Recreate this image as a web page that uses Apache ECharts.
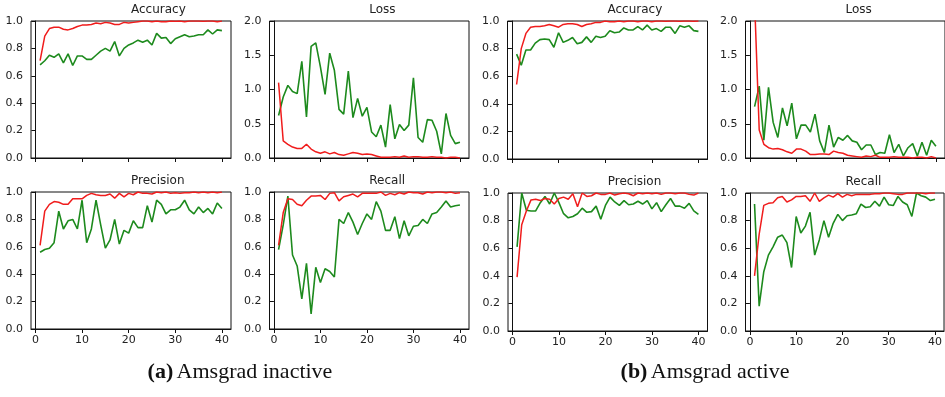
<!DOCTYPE html>
<html>
<head>
<meta charset="utf-8">
<script src="https://cdn.jsdelivr.net/npm/echarts@6/dist/echarts.min.js"></script>
<style>
html,body{margin:0;padding:0;background:#fff;}
#chart{width:945px;height:397px;}
</style>
</head>
<body>
<div id="chart"></div>
<script>
// ---------- data ----------
const epochs = [1,2,3,4,5,6,7,8,9,10,11,12,13,14,15,16,17,18,19,20,21,22,23,24,25,26,27,28,29,30,31,32,33,34,35,36,37,38,39,40];
const xTicks = [0,10,20,30,40];
const yTicksUnit = [0,0.2,0.4,0.6,0.8,1.0];
const yTicksLoss = [0,0.5,1.0,1.5,2.0];
const panelTitles = ['Accuracy','Loss','Precision','Recall'];
const captionA = ['(a)', 'Amsgrad inactive'];
const captionB = ['(b)', 'Amsgrad active'];

// (a) Amsgrad inactive
const aAccTrain = [0.71,0.89,0.945,0.955,0.955,0.94,0.935,0.945,0.96,0.97,0.97,0.975,0.985,0.98,0.99,0.985,0.975,0.975,0.99,0.985,0.99,0.995,1.0,1.0,0.995,1.0,0.995,0.995,1.0,0.998,1.0,0.995,1.0,1.0,1.0,0.998,1.0,1.0,0.995,1.0];
const aAccVal   = [0.68,0.71,0.75,0.735,0.76,0.695,0.76,0.675,0.745,0.745,0.72,0.72,0.75,0.78,0.80,0.78,0.85,0.745,0.80,0.825,0.84,0.86,0.845,0.86,0.825,0.91,0.875,0.88,0.835,0.87,0.885,0.90,0.885,0.89,0.90,0.90,0.935,0.905,0.935,0.93];
const aLossTrain = [1.10,0.25,0.20,0.16,0.14,0.14,0.20,0.13,0.09,0.07,0.09,0.06,0.08,0.05,0.04,0.06,0.08,0.07,0.05,0.06,0.05,0.03,0.01,0.01,0.01,0.02,0.01,0.03,0.01,0.02,0.02,0.01,0.01,0.02,0.01,0.01,0.0,0.01,0.01,0.0];
const aLossVal   = [0.62,0.89,1.06,0.97,0.94,1.41,0.60,1.63,1.68,1.33,0.93,1.53,1.28,0.71,0.64,1.27,0.59,0.87,0.61,0.74,0.38,0.31,0.48,0.16,0.78,0.28,0.49,0.40,0.48,1.17,0.30,0.23,0.56,0.55,0.39,0.06,0.65,0.33,0.21,0.23];
const aPrecTrain = [0.61,0.86,0.91,0.93,0.925,0.91,0.91,0.95,0.95,0.95,0.975,0.99,0.98,0.975,0.975,0.985,0.955,0.99,0.965,0.99,0.98,1.0,0.99,0.99,0.985,1.0,0.995,1.0,0.99,0.995,0.99,0.995,0.995,1.0,0.995,1.0,0.995,1.0,0.995,1.0];
const aPrecVal   = [0.56,0.58,0.59,0.63,0.86,0.73,0.79,0.80,0.73,0.94,0.63,0.73,0.94,0.76,0.59,0.65,0.80,0.62,0.72,0.70,0.79,0.74,0.74,0.90,0.78,0.94,0.91,0.84,0.87,0.87,0.89,0.94,0.87,0.84,0.89,0.85,0.88,0.84,0.92,0.88];
const aRecTrain  = [0.61,0.85,0.95,0.945,0.91,0.90,0.94,0.97,0.97,0.975,0.945,0.99,0.995,0.935,0.965,0.975,0.985,0.965,0.99,0.99,0.99,0.99,1.0,0.975,0.99,0.98,0.995,0.985,1.0,0.995,0.995,0.985,1.0,0.995,1.0,1.0,0.995,1.0,0.99,0.995];
const aRecVal    = [0.58,0.76,0.97,0.54,0.46,0.22,0.48,0.11,0.45,0.34,0.44,0.42,0.38,0.80,0.77,0.85,0.78,0.69,0.77,0.84,0.80,0.93,0.86,0.72,0.72,0.82,0.66,0.79,0.68,0.75,0.755,0.80,0.77,0.84,0.85,0.89,0.935,0.89,0.90,0.905];

// (b) Amsgrad active
const bAccTrain = [0.54,0.80,0.91,0.955,0.96,0.96,0.965,0.975,0.965,0.955,0.975,0.98,0.98,0.975,0.96,0.975,0.98,0.99,0.99,1.0,0.995,0.995,1.0,0.995,1.0,1.0,0.995,1.0,1.0,0.995,1.0,1.0,0.998,1.0,1.0,0.998,1.0,1.0,0.998,1.0];
const bAccVal   = [0.76,0.68,0.79,0.79,0.84,0.865,0.87,0.865,0.81,0.915,0.845,0.86,0.88,0.835,0.845,0.885,0.845,0.89,0.88,0.89,0.93,0.915,0.92,0.95,0.935,0.935,0.96,0.935,0.97,0.935,0.945,0.925,0.955,0.955,0.91,0.965,0.955,0.965,0.93,0.925];
const bLossTrain = [2.3,0.41,0.20,0.15,0.13,0.14,0.12,0.09,0.07,0.13,0.13,0.10,0.05,0.05,0.06,0.06,0.05,0.10,0.08,0.07,0.04,0.03,0.02,0.01,0.03,0.02,0.04,0.01,0.01,0.01,0.02,0.01,0.01,0.01,0.0,0.01,0.01,0.0,0.02,0.0];
const bLossVal   = [0.75,1.05,0.26,1.03,0.52,0.30,0.73,0.47,0.80,0.28,0.48,0.48,0.38,0.64,0.25,0.08,0.48,0.16,0.30,0.26,0.33,0.25,0.23,0.12,0.19,0.19,0.05,0.08,0.07,0.34,0.08,0.20,0.03,0.15,0.21,0.03,0.23,0.04,0.26,0.17];
const bPrecTrain = [0.39,0.77,0.87,0.95,0.955,0.945,0.96,0.955,0.92,0.96,0.97,0.955,0.995,0.90,1.0,0.975,0.98,1.0,0.99,0.99,1.0,0.985,0.995,1.0,0.995,0.98,1.0,0.995,1.0,0.995,1.0,0.99,1.0,1.0,0.995,1.0,1.0,0.99,0.985,1.0];
const bPrecVal   = [0.61,1.0,0.875,0.87,0.87,0.93,0.975,0.92,1.0,0.93,0.85,0.82,0.83,0.85,0.89,0.86,0.865,0.905,0.81,0.91,0.97,0.935,0.91,0.945,0.915,0.92,0.94,0.92,0.945,0.885,0.93,0.865,0.915,0.96,0.905,0.905,0.89,0.925,0.87,0.845];
const bRecTrain  = [0.40,0.70,0.91,0.925,0.93,0.965,0.975,0.935,0.95,0.975,0.975,0.98,0.94,1.0,0.94,0.965,0.985,0.97,0.995,0.97,0.99,0.98,0.99,0.99,0.99,0.99,0.995,0.995,1.0,1.0,0.995,0.99,0.99,1.0,1.0,1.0,1.0,0.995,1.0,1.0];
const bRecVal    = [0.92,0.18,0.43,0.55,0.61,0.68,0.695,0.64,0.46,0.83,0.71,0.76,0.86,0.55,0.66,0.80,0.68,0.78,0.845,0.80,0.835,0.84,0.85,0.92,0.895,0.90,0.94,0.905,0.97,0.915,0.91,0.975,0.935,0.915,0.83,1.0,0.98,0.97,0.945,0.955];

// ---------- layout ----------
const RED = '#f01c1c', GREEN = '#1d8a1d';
const panels = [
  {title: panelTitles[0], train: aAccTrain,  val: aAccVal,  loss:false, bottom:false, box:[31,21,200,137]},
  {title: panelTitles[1], train: aLossTrain, val: aLossVal, loss:true,  bottom:false, box:[269.5,21,199.5,137]},
  {title: panelTitles[2], train: aPrecTrain, val: aPrecVal, loss:false, bottom:true,  box:[31,192,200,137]},
  {title: panelTitles[3], train: aRecTrain,  val: aRecVal,  loss:false, bottom:true,  box:[269.5,192,199.5,137]},
  {title: panelTitles[0], train: bAccTrain,  val: bAccVal,  loss:false, bottom:false, box:[507.5,21,200,138]},
  {title: panelTitles[1], train: bLossTrain, val: bLossVal, loss:true,  bottom:false, box:[745.5,21,200,137]},
  {title: panelTitles[2], train: bPrecTrain, val: bPrecVal, loss:false, bottom:true,  box:[508,193,199.5,138]},
  {title: panelTitles[3], train: bRecTrain,  val: bRecVal,  loss:false, bottom:true,  box:[745.5,193,200,138]}
];

const grid = [], xAxis = [], yAxis = [], series = [], graphic = [];
const tickColor = '#222';
panels.forEach((p, i) => {
  const [l, t, w, h] = p.box;
  grid.push({left:l, top:t, width:w, height:h, show:true, borderColor:'#111', borderWidth:1, backgroundColor:'transparent', containLabel:false});
  xAxis.push({
    type:'value', gridIndex:i, min:-0.95, max:41.95,
    splitLine:{show:false},
    axisLine:{show:true, lineStyle:{color:'#111', width:1}},
    axisTick:{show:true, customValues:xTicks, length:4, lineStyle:{color:'#111'}},
    axisLabel:{show:p.bottom, customValues:xTicks, fontSize:11, color:tickColor, margin:6, fontFamily:'DejaVu Sans'}
  });
  const yt = p.loss ? yTicksLoss : yTicksUnit;
  yAxis.push({
    type:'value', gridIndex:i, min:yt[0], max:yt[yt.length-1], interval:yt[1]-yt[0],
    splitLine:{show:false},
    axisLine:{show:true, lineStyle:{color:'#111', width:1}},
    axisTick:{show:true, length:4, lineStyle:{color:'#111'}},
    axisLabel:{fontSize:11, color:tickColor, margin:8, fontFamily:'DejaVu Sans', formatter:v=>v.toFixed(1)}
  });
  series.push({type:'line', xAxisIndex:i, yAxisIndex:i, data:epochs.map((e,k)=>[e,p.train[k]]), showSymbol:false, clip:true, lineStyle:{color:RED, width:1.5}, itemStyle:{color:RED}, z:3});
  series.push({type:'line', xAxisIndex:i, yAxisIndex:i, data:epochs.map((e,k)=>[e,p.val[k]]), showSymbol:false, clip:true, lineStyle:{color:GREEN, width:1.6}, itemStyle:{color:GREEN}, z:2});
  graphic.push({type:'text', left: l + w/2, top: t - 17, style:{text:p.title, fill:'#222', font:'12px "DejaVu Sans"', textAlign:'center'}});
});

function caption(parts, cx){
  return {type:'text', x:cx, y:372, style:{
    text:'{b|' + parts[0] + '} {r|' + parts[1] + '}',
    rich:{ b:{fontFamily:'Liberation Serif', fontSize:22, fontWeight:'bold', fill:'#111'},
           r:{fontFamily:'Liberation Serif', fontSize:22, fill:'#111'} },
    align:'center', verticalAlign:'middle', textAlign:'center', textVerticalAlign:'middle'
  }};
}
graphic.push(caption(captionA, 240));
graphic.push(caption(captionB, 705));

const chart = echarts.init(document.getElementById('chart'), null, {renderer:'canvas'});
chart.setOption({animation:false, backgroundColor:'#fff', grid, xAxis, yAxis, series, graphic});
</script>
</body>
</html>
